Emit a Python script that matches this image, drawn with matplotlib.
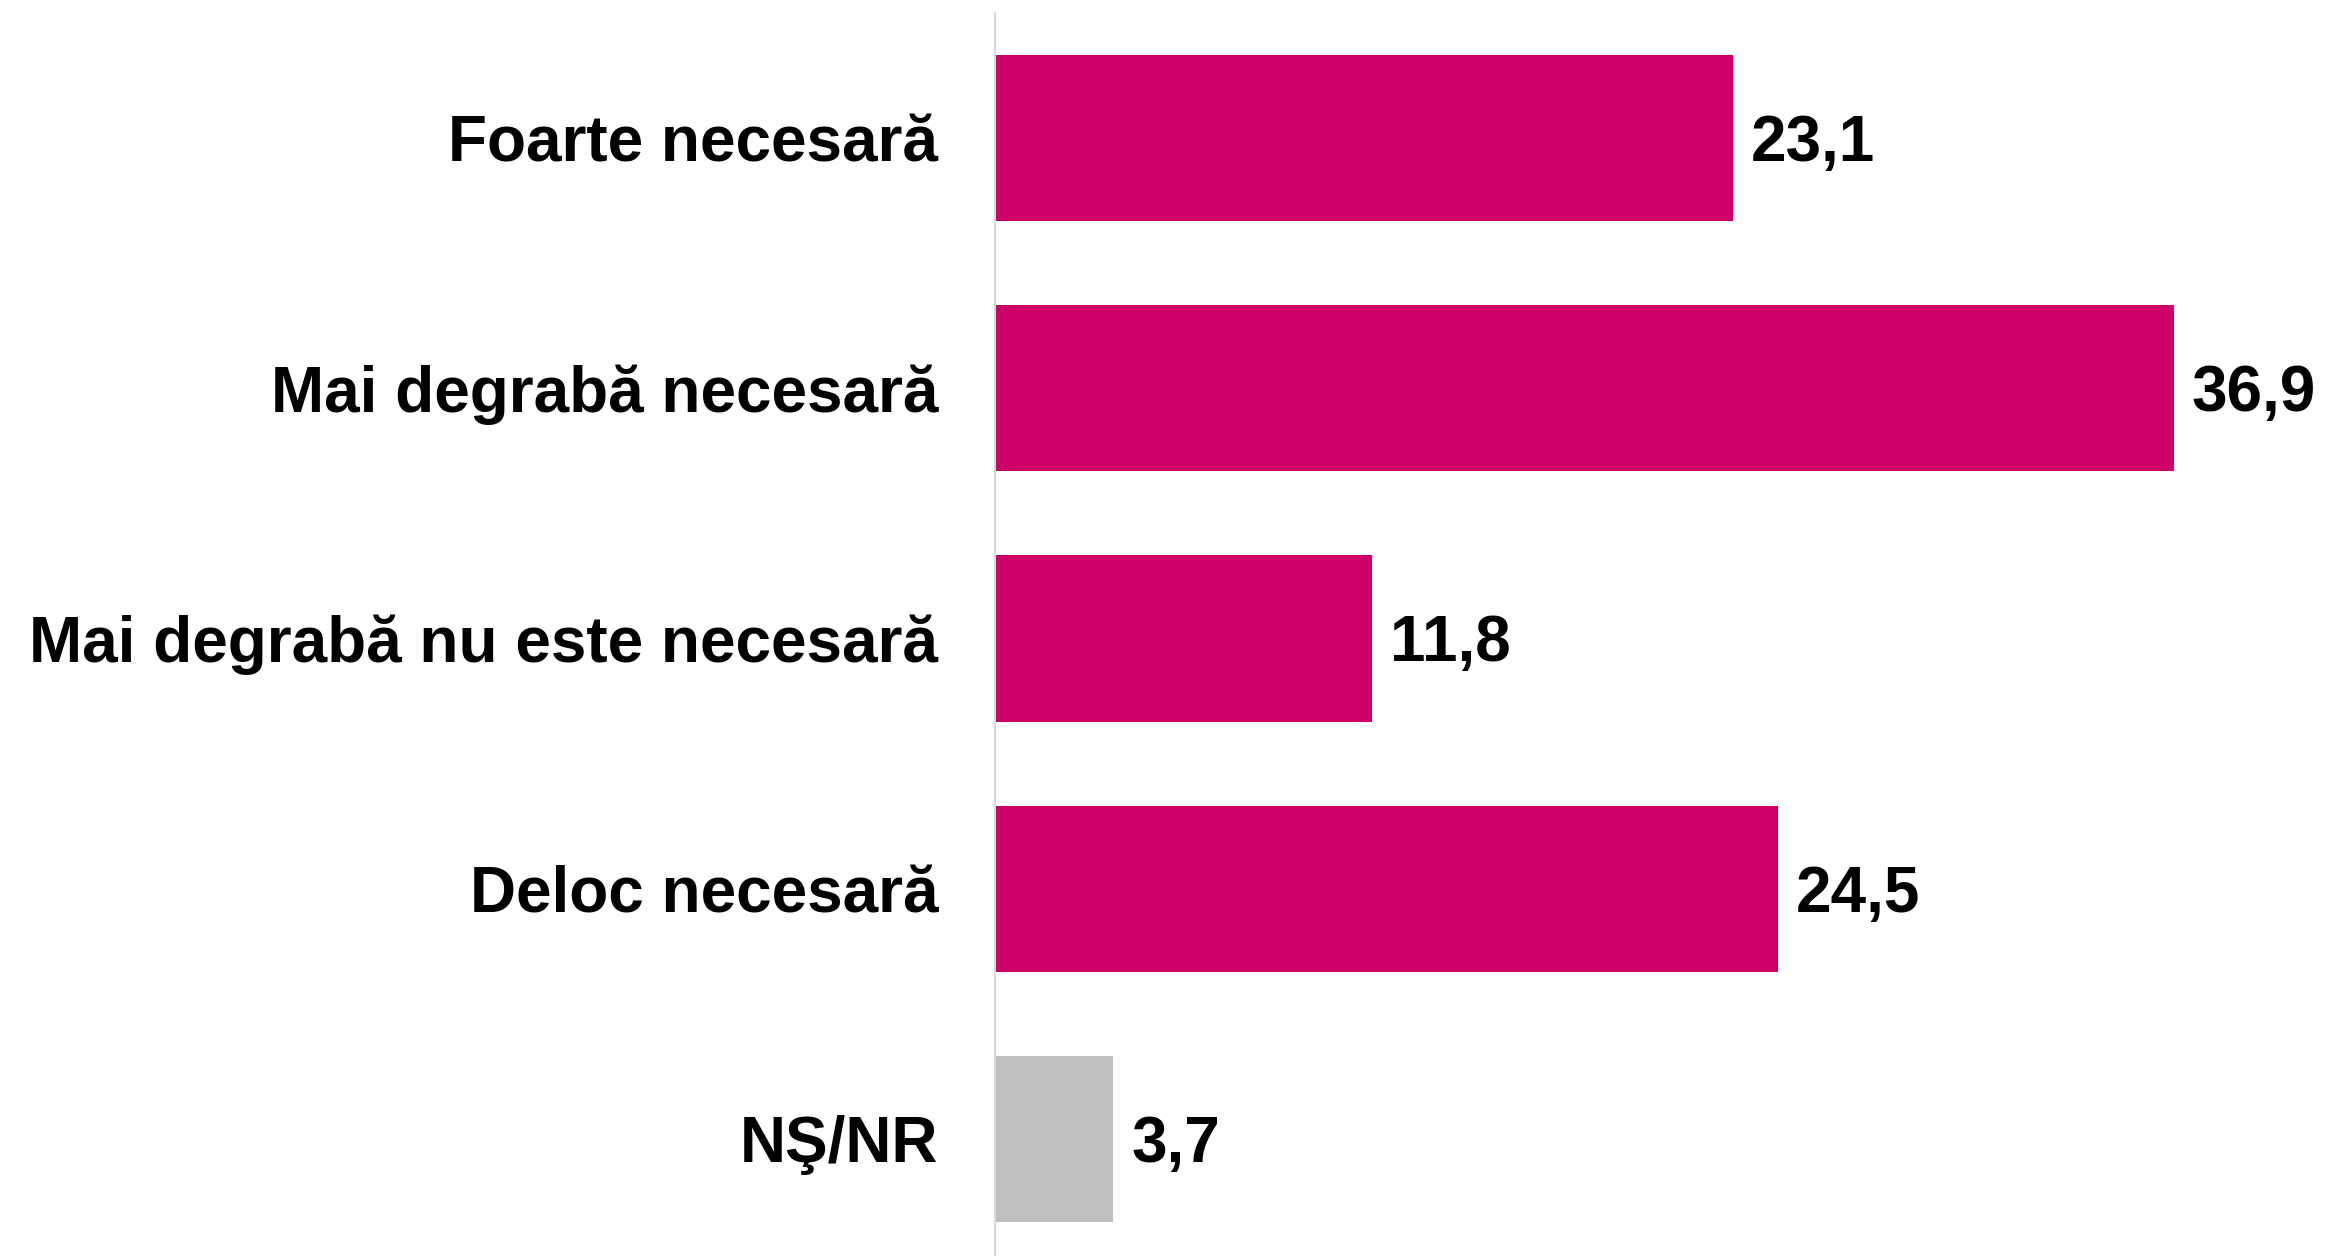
import matplotlib.pyplot as plt

categories = ["Foarte necesară", "Mai degrabă necesară", "Mai degrabă nu este necesară",
              "Deloc necesară", "NŞ/NR"]
values = [23.1, 36.9, 11.8, 24.5, 3.7]
colors = ["#CC0066", "#CC0066", "#CC0066", "#CC0066", "#BFBFBF"]

plt.rcParams["font.family"] = ["Liberation Sans", "DejaVu Sans"]

fig = plt.figure(figsize=(23.28, 12.56), dpi=100)
ax = fig.add_axes([995 / 2328, 0, 1 - 995 / 2328, 1243 / 1256])

pos = list(range(len(categories)))
ax.barh(pos, values, height=0.664, color=colors, zorder=2)

# half the digit height (46pt bold) in row units, so digits sit centred on the bar
half_cap = 0.5 * 46 / 72 * 100 * 0.716 / 250.25
for y, v in zip(pos, values):
    ax.text(v + 0.56, y + half_cap, f"{v:.1f}".replace(".", ","), va="baseline", ha="left",
            fontsize=46, fontweight="bold", color="black")

ax.set_xlim(0, 41.72)
ax.set_ylim(4.468, -0.5)
ax.set_yticks(pos)
ax.set_yticklabels(categories, fontsize=46, fontweight="bold")
ax.tick_params(axis="y", length=0, pad=41)
ax.set_xticks([])

for side in ["top", "right", "bottom"]:
    ax.spines[side].set_visible(False)
ax.spines["left"].set_color("#D9D9D9")
ax.spines["left"].set_linewidth(1.5)

fig.savefig("out.png", dpi=100)
